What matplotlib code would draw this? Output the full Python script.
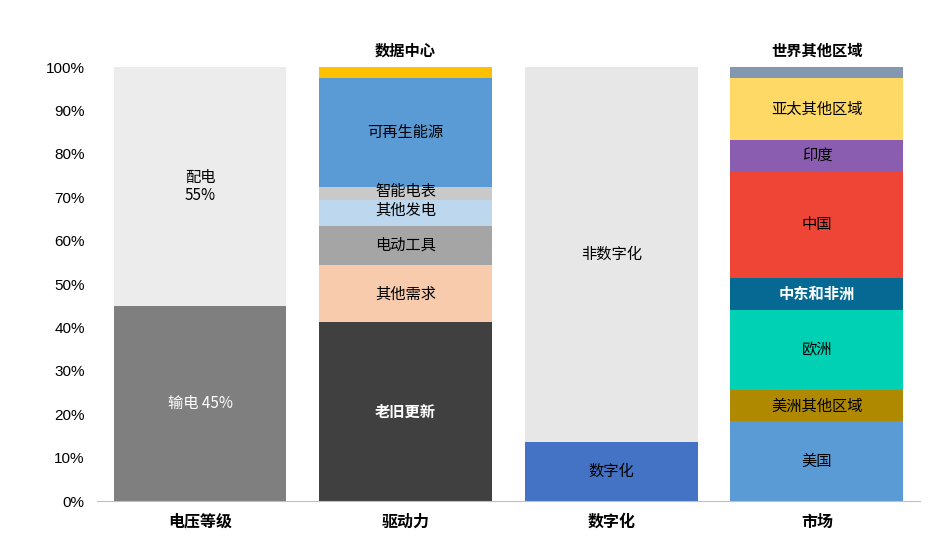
import matplotlib.pyplot as plt
import numpy as np

plt.rcParams['font.family'] = ['Noto Sans CJK SC', 'DejaVu Sans']

categories = ["电压等级", "驱动力", "数字化", "市场"]

# segments per bar, bottom to top (values in %)
voltage_names = ["输电 45%", "配电\n55%"]
voltage_vals = [45, 55]
voltage_cols = ["#7f7f7f", "#ececec"]

driver_names = ["老旧更新", "其他需求", "电动工具", "其他发电", "智能电表", "可再生能源", "数据中心"]
driver_vals = [41.2, 13.1, 9.2, 6.0, 2.8, 25.1, 2.6]
driver_cols = ["#404040", "#f8cbad", "#a5a5a5", "#bdd7ee", "#c9c9c9", "#5b9bd5", "#ffc000"]

digital_names = ["数字化", "非数字化"]
digital_vals = [13.6, 86.4]
digital_cols = ["#4472c4", "#e7e7e7"]

market_names = ["美国", "美洲其他区域", "欧洲", "中东和非洲", "中国", "印度", "亚太其他区域", "世界其他区域"]
market_vals = [18.4, 7.1, 18.6, 7.4, 24.3, 7.4, 14.3, 2.5]
market_cols = ["#5b9bd5", "#af8a00", "#00d1b4", "#066993", "#ee4537", "#8a5db0", "#ffd966", "#8497b0"]

white_bold = {"老旧更新", "中东和非洲"}
white_plain = {"输电 45%"}
above = {"数据中心", "世界其他区域"}

fig = plt.figure(figsize=(9.53, 5.55), dpi=100)
ax = fig.add_axes([0.102, 0.097, 0.863, 0.782])

bars = [
    (voltage_names, voltage_vals, voltage_cols),
    (driver_names, driver_vals, driver_cols),
    (digital_names, digital_vals, digital_cols),
    (market_names, market_vals, market_cols),
]

for i, (names, vals, cols) in enumerate(bars):
    bottom = 0
    for n, v, c in zip(names, vals, cols):
        ax.bar(i, v, bottom=bottom, width=0.84, color=c, edgecolor='none')
        if n in above:
            ax.annotate(n, (i, 100), xytext=(0, 6), textcoords='offset points',
                        ha='center', va='bottom', fontsize=11, fontweight='bold', color='black')
        else:
            col = 'white' if (n in white_bold or n in white_plain) else 'black'
            fw = 'bold' if n in white_bold else 'medium'
            y = bottom + v / 2
            if n == "智能电表":
                y += 0.4
            elif n == "其他发电":
                y += 0.5
            ax.text(i, y, n, ha='center', va='center', fontsize=11,
                    color=col, fontweight=fw, linespacing=1.05)
        bottom += v

ax.set_xlim(-0.5, 3.5)
ax.set_ylim(0, 100)
ax.set_yticks(np.arange(0, 101, 10))
ax.set_yticklabels([f"{t}%" for t in range(0, 101, 10)], family=['Liberation Sans', 'DejaVu Sans'], fontsize=11)
ax.set_xticks(range(len(categories)))
ax.set_xticklabels(categories, fontsize=11.5, fontweight='bold')
ax.tick_params(axis='y', length=0, pad=9)
ax.tick_params(axis='x', length=0, pad=9)
for s in ['left', 'right', 'top']:
    ax.spines[s].set_visible(False)
ax.spines['bottom'].set_color('#bfbfbf')

fig.savefig('out.png', dpi=100)
